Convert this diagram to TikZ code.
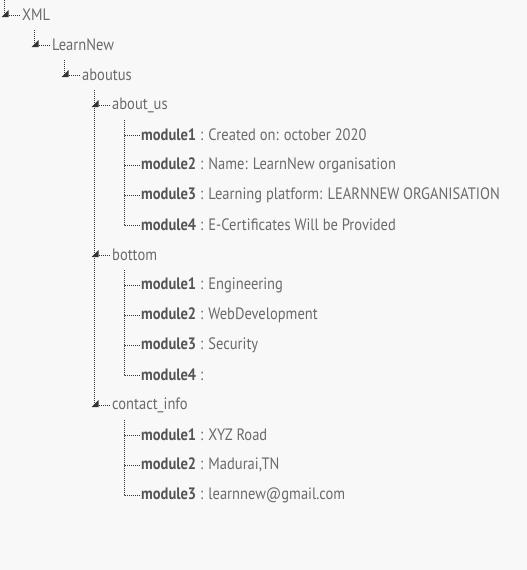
\documentclass[tikz,border=0pt]{standalone}
\usepackage{fontspec}
\setmainfont[FakeStretch=0.88]{PT Sans}
\usepackage{tikz}
\usetikzlibrary{positioning}

\definecolor{tagtext}{HTML}{6A6A6A}
\definecolor{keytext}{HTML}{555555}
\definecolor{guideline}{HTML}{333333}
\definecolor{pagebg}{HTML}{F8F8F8}

\tikzset{
  tag/.style={anchor=west, inner sep=0pt, text=tagtext, font=\fontsize{16.5}{17}\selectfont},
  leaf/.style={tag},
  guide/.style={draw=guideline, line width=0.8pt, dash pattern=on 1pt off 1pt},
  fold/.style={fill=guideline}
}
\newcommand{\modkey}[1]{\textcolor{keytext}{\bfseries #1}}

\begin{document}
\begin{tikzpicture}[x=1pt, y=-1pt]
\fill[pagebg] (0,0) rectangle (527,570);
\useasboundingbox (0,0) rectangle (527,570);

% element names
\node[tag] (xml)      at (22,15)   {XML};
\node[tag] (learnnew) at (52,45)   {LearnNew};
\node[tag] (aboutus)  at (82,75)   {aboutus};
\node[tag] (about_us) at (112,105) {about\_us};
\node[tag] (bottom)   at (112,255) {bottom};
\node[tag] (contact)  at (112,405) {contact\_info};

% about_us modules
\node[leaf] (a1) at (141,135) {\modkey{module1} : Created on: october 2020};
\node[leaf] (a2) at (141,165) {\modkey{module2} : Name: LearnNew organisation};
\node[leaf] (a3) at (141,195) {\modkey{module3} : Learning platform: LEARNNEW ORGANISATION};
\node[leaf] (a4) at (141,225) {\modkey{module4} : E-Certificates Will be Provided};

% bottom modules
\node[leaf] (b1) at (141,285) {\modkey{module1} : Engineering};
\node[leaf] (b2) at (141,315) {\modkey{module2} : WebDevelopment};
\node[leaf] (b3) at (141,345) {\modkey{module3} : Security};
\node[leaf] (b4) at (141,375) {\modkey{module4} :};

% contact_info modules
\node[leaf] (c1) at (141,435) {\modkey{module1} : XYZ Road};
\node[leaf] (c2) at (141,465) {\modkey{module2} : Madurai,TN};
\node[leaf] (c3) at (141,495) {\modkey{module3} : learnnew@gmail.com};

% tree guides
\coordinate (top0) at (4,0);
\coordinate (top1) at (34,30);
\coordinate (top2) at (64,60);
\coordinate (top3) at (94,90);
\coordinate (topa) at (124,120);
\coordinate (topb) at (124,270);
\coordinate (topc) at (124,420);

\draw[guide] (top0) |- ([xshift=-1pt]xml.west);
\draw[guide] (top1) |- ([xshift=-1pt]learnnew.west);
\draw[guide] (top2) |- ([xshift=-1pt]aboutus.west);
\draw[guide] (top3) |- ([xshift=-1pt]about_us.west);
\draw[guide] (top3) |- ([xshift=-1pt]bottom.west);
\draw[guide] (top3) |- ([xshift=-1pt]contact.west);
\foreach \m in {a1,a2,a3,a4} \draw[guide] (topa) |- ([xshift=-1pt]\m.west);
\foreach \m in {b1,b2,b3,b4} \draw[guide] (topb) |- ([xshift=-1pt]\m.west);
\foreach \m in {c1,c2,c3} \draw[guide] (topc) |- ([xshift=-1pt]\m.west);

% fold markers
\foreach \n/\x in {xml/1.5,learnnew/31.5,aboutus/61.5,about_us/91.5,bottom/91.5,contact/91.5}
  \fill[fold] (\x,0 |- \n.west) ++(0,2) -- ++(7,0) -- ++(0,-7) -- cycle;
\end{tikzpicture}
\end{document}
